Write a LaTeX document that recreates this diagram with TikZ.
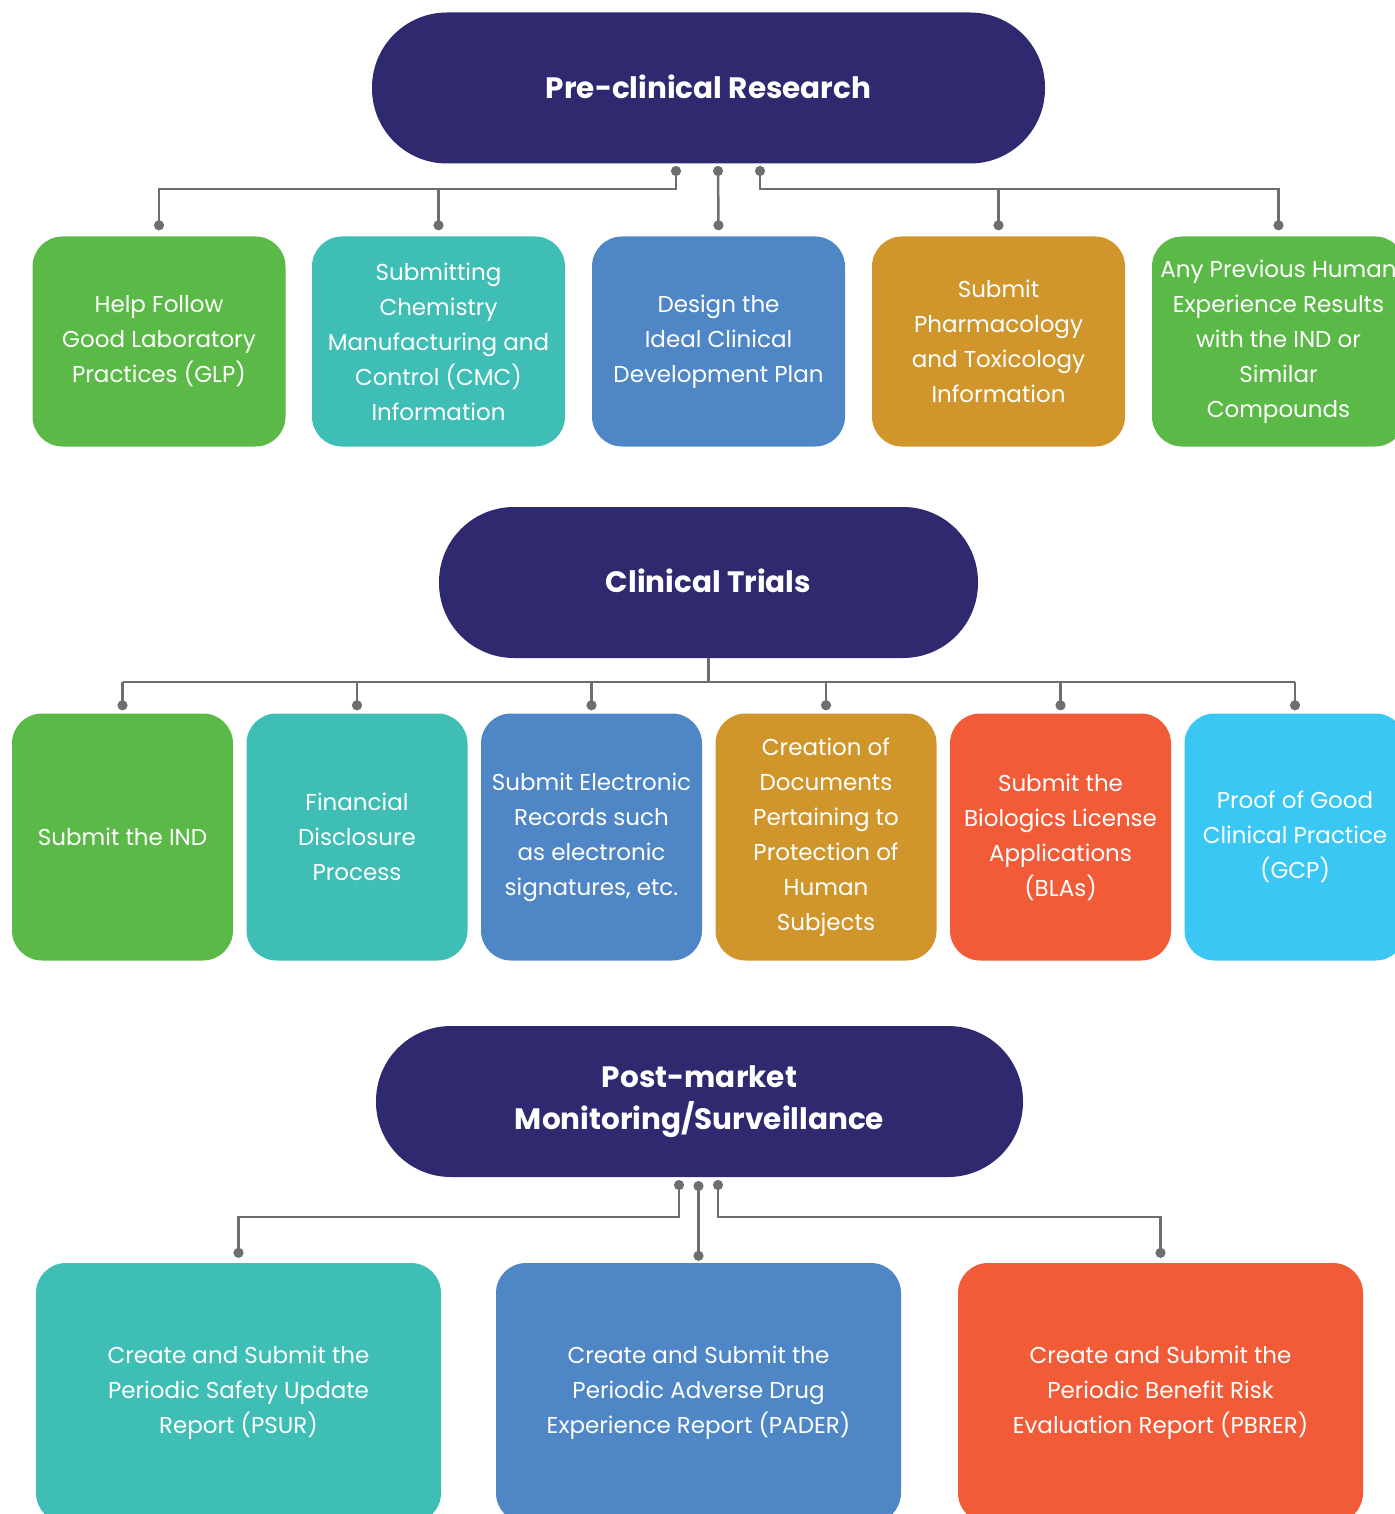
\documentclass[tikz,border=0pt]{standalone}
\usepackage{fontspec}
\setmainfont{Poppins}
\usepackage{tikz}
\usetikzlibrary{positioning, arrows.meta}
\definecolor{navy}{RGB}{47,41,111}
\definecolor{leaf}{RGB}{91,186,71}
\definecolor{teal}{RGB}{62,190,181}
\definecolor{steel}{RGB}{79,135,198}
\definecolor{gold}{RGB}{208,150,44}
\definecolor{coral}{RGB}{241,91,56}
\definecolor{sky}{RGB}{58,199,243}
\definecolor{wire}{RGB}{109,110,113}
\tikzset{
    phase/.style={rectangle, rounded corners=75pt, fill=navy, text=white, minimum height=151pt, align=center, font=\bfseries\fontsize{29.5}{42}\selectfont},
    task/.style={rectangle, rounded corners=30pt, text=white, align=center, font=\fontsize{23}{35}\selectfont},
    topbox/.style={task, minimum width=253pt, minimum height=210pt},
    midbox/.style={task, minimum width=221pt, minimum height=247pt},
    lowbox/.style={task, minimum width=405pt, minimum height=260pt},
    link/.style={{Circle[length=10pt]}-{Circle[length=10pt]}, line width=2.5pt, wire},
    drop/.style={-{Circle[length=10pt]}, line width=2.5pt, wire},
    trunk/.style={line width=2.5pt, wire}
}

\begin{document}
\begin{tikzpicture}[x=1pt, y=-1pt]
        	\useasboundingbox (0,0) rectangle (1394,1514);
        	% Giai đoạn 1
        	\node (pre) [phase, minimum width=673pt] at (708.5,88) {\raisebox{3pt}{Pre-clinical Research}};
        	\node (g1) [topbox, fill=leaf]  at (159,341.5) {Help Follow\\Good Laboratory\\Practices (GLP)};
        	\node (g2) [topbox, fill=teal]  at (438.5,341.5) {Submitting\\Chemistry\\Manufacturing and\\Control (CMC)\\Information};
        	\node (g3) [topbox, fill=steel] at (718.5,341.5) {Design the\\Ideal Clinical\\Development Plan};
        	\node (g4) [topbox, fill=gold]  at (998.5,341.5) {Submit\\Pharmacology\\and Toxicology\\Information};
        	\node (g5) [topbox, fill=leaf]  at (1278.5,341.5) {Any Previous Human\\Experience Results\\with the IND or\\Similar\\Compounds};
        	
        	\coordinate (pl) at (676,166);
        	\coordinate (pm) at (718,166);
        	\coordinate (pr) at (760,166);
        	\draw[link] (pl) -- ++(0,23) -| ([yshift=6pt]g1.north);
        	\draw[drop] (438.5,189) -- ([yshift=6pt]g2.north);
        	\draw[link] (pm) -- ([yshift=6pt]g3.north);
        	\draw[drop] (998.5,189) -- ([yshift=6pt]g4.north);
        	\draw[link] (pr) -- ++(0,23) -| ([yshift=6pt]g5.north);
        	
        	% Giai đoạn 2
        	\node (ct) [phase, minimum width=539pt] at (708.5,582.5) {\raisebox{3pt}{Clinical Trials}};
        	\node (c1) [midbox, fill=leaf]  at (122.5,837) {Submit the IND};
        	\node (c2) [midbox, fill=teal]  at (357,837) {Financial\\Disclosure\\Process};
        	\node (c3) [midbox, fill=steel] at (591.5,837) {Submit Electronic\\Records such\\as electronic\\signatures, etc.};
        	\node (c4) [midbox, fill=gold]  at (826,837) {Creation of\\Documents\\Pertaining to\\Protection of\\Human\\Subjects};
        	\node (c5) [midbox, fill=coral] at (1060.5,837) {Submit the\\Biologics License\\Applications\\(BLAs)};
        	\node (c6) [midbox, fill=sky]   at (1295,837) {Proof of Good\\Clinical Practice\\(GCP)};
        	
        	\draw[trunk] (ct.south) -- ++(0,24) coordinate (bar);
        	\draw[trunk] (c1.north |- bar) -- (c6.north |- bar);
        	\foreach \n in {c1,c2,c3,c4,c5,c6}
        	\draw[drop] (\n.north |- bar) -- ([yshift=3pt]\n.north);
        	
        	% Giai đoạn 3
        	\node (pm3) [phase, minimum width=647pt] at (699.5,1101.5) {Post-market\\Monitoring/Surveillance};
        	\node (m1) [lowbox, fill=teal]  at (238.5,1393) {Create and Submit the\\Periodic Safety Update\\Report (PSUR)};
        	\node (m2) [lowbox, fill=steel] at (698.5,1393) {Create and Submit the\\Periodic Adverse Drug\\Experience Report (PADER)};
        	\node (m3) [lowbox, fill=coral] at (1160.5,1393) {Create and Submit the\\Periodic Benefit Risk\\Evaluation Report (PBRER)};
        	
        	\coordinate (ql) at (679,1180);
        	\coordinate (qm) at (698.5,1181);
        	\coordinate (qr) at (718,1180);
        	\draw[link] (ql) -- ++(0,37) -| ([yshift=5pt]m1.north);
        	\draw[link] (qm) -- ([yshift=2pt]m2.north);
        	\draw[link] (qr) -- ++(0,37) -| ([yshift=5pt]m3.north);
        	
        \end{tikzpicture}
\end{document}
